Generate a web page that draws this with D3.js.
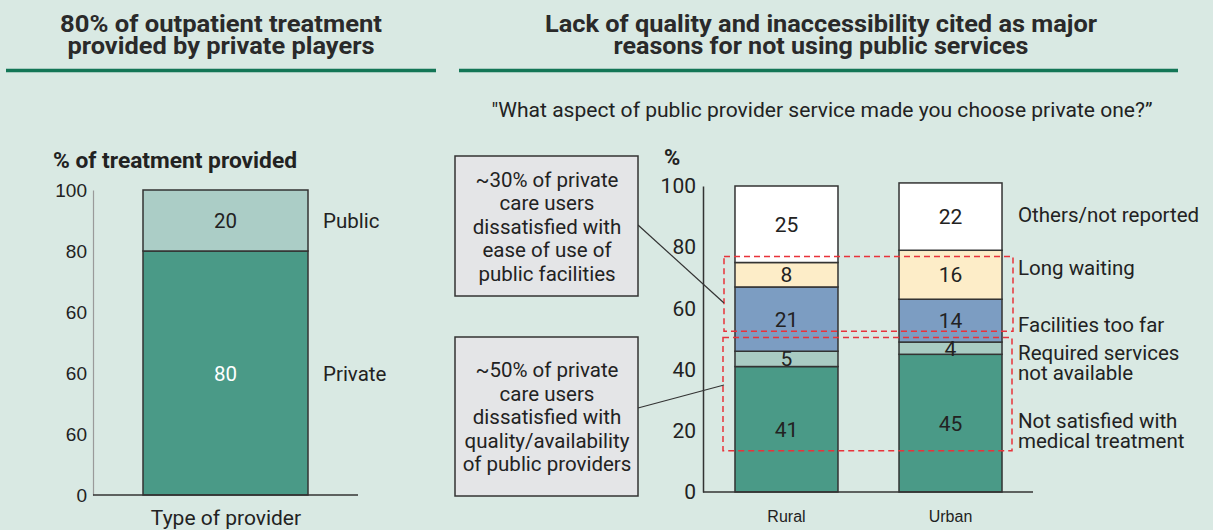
<!DOCTYPE html>
<html>
<head>
<meta charset="utf-8">
<script src="https://cdn.jsdelivr.net/npm/d3@7"></script>
<style>
  html, body { margin: 0; padding: 0; background: #d9e9e3; }
  svg { display: block; }
  text { font-family: Roboto, "Noto Sans", sans-serif; fill: #222; }
</style>
</head>
<body>
<svg id="chart" width="1213" height="530"></svg>
<script>
// ---- Left panel: share of outpatient treatment by provider type ----
const providerSegments = ["Private", "Public"];
const providerValues = [80, 20];
const leftTickValues = [0, 20, 40, 60, 80, 100];
const leftTickLabels = ["0", "60", "60", "60", "80", "100"];

// ---- Right panel: reasons for choosing a private provider ----
const areas = ["Rural", "Urban"];
const reasons = [
  "Not satisfied with medical treatment",
  "Required services not available",
  "Facilities too far",
  "Long waiting",
  "Others/not reported"
];
const ruralValues = [41, 5, 21, 8, 25];
const urbanValues = [45, 4, 14, 16, 22];
const rightTickValues = [0, 20, 40, 60, 80, 100];
const rightTickLabels = ["0", "20", "40", "60", "80", "100"];
const reasonLabelLines = [
  ["Not satisfied with", "medical treatment"],
  ["Required services", "not available"],
  ["Facilities too far"],
  ["Long waiting"],
  ["Others/not reported"]
];
// highlighted value bands (access-related and quality-related reasons)
const accessBand = [52.5, 77];
const qualityBand = [13.5, 50.5];

const svg = d3.select("#chart");

const reasonColors = ["#4a9a87", "#a9cbc3", "#7c9dc2", "#fdedc8", "#ffffff"];
const providerColors = ["#4a9a87", "#abcdc6"];
const bodySize = "20.5px";

// ---------- Headers ----------
function header(lines, cx, widths) {
  const g = svg.append("g");
  lines.forEach((t, i) => {
    g.append("text")
      .attr("x", cx).attr("y", 32 + i * 22)
      .attr("text-anchor", "middle")
      .style("font-size", "24px").style("font-weight", "bold")
      .style("fill", "#2a2a2a")
      .attr("textLength", widths[i]).attr("lengthAdjust", "spacingAndGlyphs")
      .text(t);
  });
}
header(["80% of outpatient treatment", "provided by private players"], 221, [322, 307]);
header(["Lack of quality and inaccessibility cited as major", "reasons for not using public services"], 821, [552, 415]);

svg.append("line").attr("x1", 6).attr("x2", 436).attr("y1", 70.5).attr("y2", 70.5)
  .attr("stroke", "#137656").attr("stroke-width", 3.5);
svg.append("line").attr("x1", 459).attr("x2", 1178).attr("y1", 70.5).attr("y2", 70.5)
  .attr("stroke", "#137656").attr("stroke-width", 3.5);

// ---------- Left chart ----------
const yL = d3.scaleLinear().domain([0, 100]).range([495, 190]);

svg.append("text").attr("x", 53).attr("y", 168)
  .style("font-size", "22px").style("font-weight", "bold")
  .attr("textLength", 244).attr("lengthAdjust", "spacingAndGlyphs")
  .text("% of treatment provided");

const leftAxis = svg.append("g").attr("transform", "translate(93,0)")
  .call(d3.axisLeft(yL).tickValues(leftTickValues).tickSize(0).tickPadding(6)
    .tickFormat((d, i) => leftTickLabels[i]));
leftAxis.select(".domain").attr("stroke", "#9a9a9a").attr("stroke-width", 1.2);
leftAxis.selectAll("text").style("font-family", "'Liberation Sans', Arial, sans-serif")
  .style("font-size", "19px").style("fill", "#222");

const leftStack = [];
let accL = 0;
providerValues.forEach((v, i) => { leftStack.push({ name: providerSegments[i], y0: accL, y1: accL + v, v }); accL += v; });

const bx = 143, bw = 165;
svg.selectAll(".pseg").data(leftStack).join("rect")
  .attr("x", bx).attr("width", bw)
  .attr("y", d => yL(d.y1)).attr("height", d => yL(d.y0) - yL(d.y1))
  .attr("fill", (d, i) => providerColors[i])
  .attr("stroke", "#333").attr("stroke-width", 1.5);

svg.append("line").attr("x1", 93).attr("x2", 358).attr("y1", yL(0)).attr("y2", yL(0))
  .attr("stroke", "#333").attr("stroke-width", 1.5);

svg.selectAll(".plab").data(leftStack).join("text")
  .attr("x", bx + bw / 2).attr("y", d => yL((d.y0 + d.y1) / 2) + 7.5)
  .attr("text-anchor", "middle").style("font-size", bodySize)
  .style("fill", (d, i) => i === 0 ? "#ffffff" : "#222")
  .text(d => d.v);

svg.selectAll(".pname").data(leftStack).join("text")
  .attr("x", 323).attr("y", d => yL((d.y0 + d.y1) / 2) + 7.5)
  .style("font-size", bodySize)
  .text(d => d.name);

svg.append("text").attr("x", 226).attr("y", 525).attr("text-anchor", "middle")
  .style("font-size", "21px").text("Type of provider");

// ---------- Right chart ----------
svg.append("text").attr("x", 822).attr("y", 117).attr("text-anchor", "middle")
  .style("font-size", "21px")
  .attr("textLength", 661).attr("lengthAdjust", "spacingAndGlyphs")
  .text("\"What aspect of public provider service made you choose private one?\u201D");

const yR = d3.scaleLinear().domain([0, 100]).range([492, 186]);
const xR = d3.scaleBand().domain(areas).range([703, 1034]).paddingInner(0.372).paddingOuter(0.195);

svg.append("text").attr("x", 664).attr("y", 165)
  .style("font-size", "22px").style("font-weight", "bold").text("%");

const rightAxis = svg.append("g").attr("transform", "translate(703,0)")
  .call(d3.axisLeft(yR).tickValues(rightTickValues).tickSize(0).tickPadding(7)
    .tickFormat((d, i) => rightTickLabels[i]));
rightAxis.select(".domain").attr("stroke", "#333").attr("stroke-width", 1.5);
rightAxis.selectAll("text").style("font-size", "21px").style("fill", "#222");

const series = [ruralValues, urbanValues];
const stacks = areas.map((a, ai) => {
  let acc = 0;
  return series[ai].map((v, i) => { const s = { area: a, idx: i, y0: acc, y1: acc + v, v }; acc += v; return s; });
});

const barG = svg.append("g");
stacks.forEach(st => {
  barG.selectAll(null).data(st).join("rect")
    .attr("x", d => xR(d.area)).attr("width", xR.bandwidth())
    .attr("y", d => yR(d.y1)).attr("height", d => yR(d.y0) - yR(d.y1))
    .attr("fill", d => reasonColors[d.idx])
    .attr("stroke", "#333").attr("stroke-width", 1.5);
  barG.selectAll(null).data(st).join("text")
    .attr("x", d => xR(d.area) + xR.bandwidth() / 2)
    .attr("y", d => yR((d.y0 + d.y1) / 2) + 7.5)
    .attr("text-anchor", "middle").style("font-size", "21px")
    .text(d => d.v);
});

svg.append("line").attr("x1", 703).attr("x2", 1033).attr("y1", yR(0)).attr("y2", yR(0))
  .attr("stroke", "#333").attr("stroke-width", 1.5);

svg.selectAll(".area").data(areas).join("text")
  .attr("x", d => xR(d) + xR.bandwidth() / 2).attr("y", 522)
  .attr("text-anchor", "middle")
  .style("font-family", "'Liberation Sans', Arial, sans-serif").style("font-size", "16px")
  .text(d => d);

// reason labels, placed beside the urban bar (baseline of first line)
const legendBase = [428, 360, 332, 275, 222];
reasonLabelLines.forEach((lines, i) => {
  lines.forEach((t, j) => {
    svg.append("text").attr("x", 1018).attr("y", legendBase[i] + j * 19.5)
      .style("font-size", bodySize).text(t);
  });
});

// dashed highlight bands
[accessBand, qualityBand].forEach((b, i) => {
  svg.append("rect")
    .attr("x", 723 + (i === 0 ? 1 : 0)).attr("width", 289)
    .attr("y", yR(b[1])).attr("height", yR(b[0]) - yR(b[1]))
    .attr("fill", "none").attr("stroke", "#e8333a").attr("stroke-width", 1.5)
    .attr("stroke-dasharray", "6,4");
});

// callout boxes
const callouts = [
  { lines: ["~30% of private", "care users", "dissatisfied with", "ease of use of", "public facilities"], y: 156, h: 140, from: 225, to: 303 },
  { lines: ["~50% of private", "care users", "dissatisfied with", "quality/availability", "of public providers"], y: 337, h: 159, from: 408, to: 385 }
];
callouts.forEach(c => {
  svg.append("line").attr("x1", 638).attr("y1", c.from).attr("x2", 724).attr("y2", c.to)
    .attr("stroke", "#333").attr("stroke-width", 1.2);
  svg.append("rect").attr("x", 455).attr("y", c.y).attr("width", 183).attr("height", c.h)
    .attr("fill", "#e4e5e7").attr("stroke", "#333").attr("stroke-width", 1.5);
  const top = c.y + c.h / 2 - 2 * 23.5;
  c.lines.forEach((t, j) => {
    svg.append("text").attr("x", 547).attr("y", top + j * 23.5 + 7.5)
      .attr("text-anchor", "middle").style("font-size", bodySize).text(t);
  });
});
</script>
</body>
</html>
